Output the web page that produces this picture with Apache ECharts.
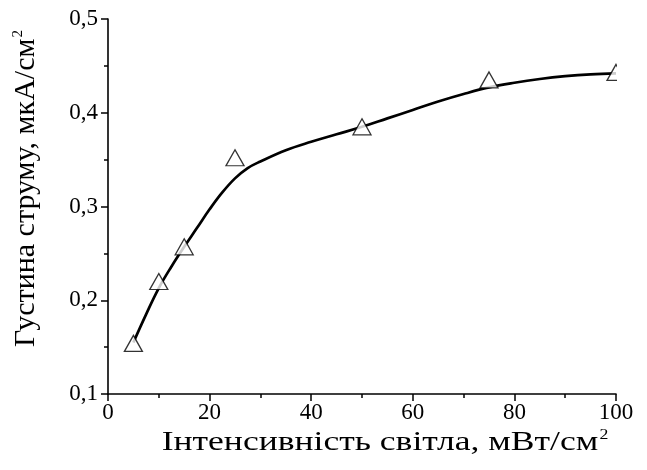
<!DOCTYPE html>
<html>
<head>
<meta charset="utf-8">
<script src="https://cdn.jsdelivr.net/npm/echarts@6/dist/echarts.min.js"></script>
<style>
html,body{margin:0;padding:0;background:#fff;}
#chart{width:647px;height:470px;}
</style>
</head>
<body>
<div id="chart"></div>
<script>
// Measured points (triangles)
const pointX = [5, 10, 15, 25, 50, 75, 100];
const pointY = [0.154, 0.220, 0.257, 0.352, 0.385, 0.435, 0.443];
// Fitted curve
const curveX = [5, 7.5, 10, 12.5, 15, 17.5, 20, 22.5, 25, 27.5, 30, 35, 40, 45, 50, 55, 60, 65, 70, 75, 80, 85, 90, 95, 100];
const curveY = [0.155, 0.185, 0.213, 0.236, 0.257, 0.277, 0.297, 0.315, 0.330, 0.341, 0.348, 0.360, 0.369, 0.377, 0.385, 0.394, 0.403, 0.412, 0.420, 0.427, 0.432, 0.436, 0.439, 0.441, 0.442];
// Axis ticks
const xTicks = {min: 0, max: 100, interval: 20};
const yTicks = {min: 0.1, max: 0.5, interval: 0.1};
const xTitle = 'Інтенсивність світла, мВт/см';
const yTitle = 'Густина струму, мкА/см';

const FONT = 'Liberation Serif';
const chart = echarts.init(document.getElementById('chart'), null, {renderer: 'canvas'});
const axisCommon = {
  axisLine: {show: true, lineStyle: {color: '#000', width: 1.6}},
  axisTick: {show: true, inside: false, length: 7, lineStyle: {color: '#000', width: 1.5}},
  minorTick: {show: true, splitNumber: 2, length: 4, lineStyle: {color: '#000', width: 1.5}},
  splitLine: {show: false},
  minorSplitLine: {show: false}
};
const supStyle = {fontFamily: FONT, fontSize: 15, color: '#000', verticalAlign: 'top', padding: [0, 0, 16, 1]};
chart.setOption({
  animation: false,
  backgroundColor: '#fff',
  grid: {left: 108, right: 31, top: 19, bottom: 76, containLabel: false},
  xAxis: Object.assign({
    type: 'value',
    min: xTicks.min, max: xTicks.max, interval: xTicks.interval,
    axisLabel: {color: '#000', fontFamily: FONT, fontSize: 23, margin: 7}
  }, axisCommon),
  yAxis: Object.assign({
    type: 'value',
    min: yTicks.min, max: yTicks.max, interval: yTicks.interval,
    axisLabel: {color: '#000', fontFamily: FONT, fontSize: 23, margin: 10,
      formatter: v => v.toFixed(1).replace('.', ',')},
    name: '{t|' + yTitle + '}{s|2}',
    nameLocation: 'middle',
    nameGap: 66,
    nameRotate: 90,
    nameTextStyle: {
      padding: [0, 0, 0, 36],
      rich: {
        t: {fontFamily: FONT, fontSize: 30, color: '#000'},
        s: supStyle
      }
    }
  }, axisCommon),
  series: [
    {
      type: 'line',
      data: curveX.map((x, i) => [x, curveY[i]]),
      smooth: 0.4,
      showSymbol: false,
      symbol: 'none',
      lineStyle: {color: '#000', width: 2.7},
      z: 2
    },
    {
      type: 'scatter',
      data: pointX.map((x, i) => [x, pointY[i]]),
      symbol: 'triangle',
      symbolSize: [18, 16],
      itemStyle: {color: '#fff', borderColor: '#000', borderWidth: 1.3},
      z: 3
    }
  ]
});
// Clip marks at the right edge of the plot area, as in the original
const tr = chart.convertToPixel({gridIndex: 0}, [xTicks.max, yTicks.max]);
const br = chart.convertToPixel({gridIndex: 0}, [xTicks.max, yTicks.min]);
chart.setOption({
  graphic: [
    {
      type: 'rect', z: 100,
      shape: {x: tr[0] + 1, y: tr[1], width: 647 - tr[0], height: br[1] - tr[1] - 2},
      style: {fill: '#fff'}
    },
    {
      type: 'text', z: 101,
      x: 385, y: 443,
      scaleX: 1.27, scaleY: 1,
      style: {
        text: '{t|' + xTitle + '}{s|2}',
        align: 'center', verticalAlign: 'middle',
        rich: {
          t: {fontFamily: FONT, fontSize: 28, fill: '#000'},
          s: {fontFamily: FONT, fontSize: 14, fill: '#000', verticalAlign: 'top', padding: [0, 0, 16, 1]}
        }
      }
    }
  ]
});
</script>
</body>
</html>
